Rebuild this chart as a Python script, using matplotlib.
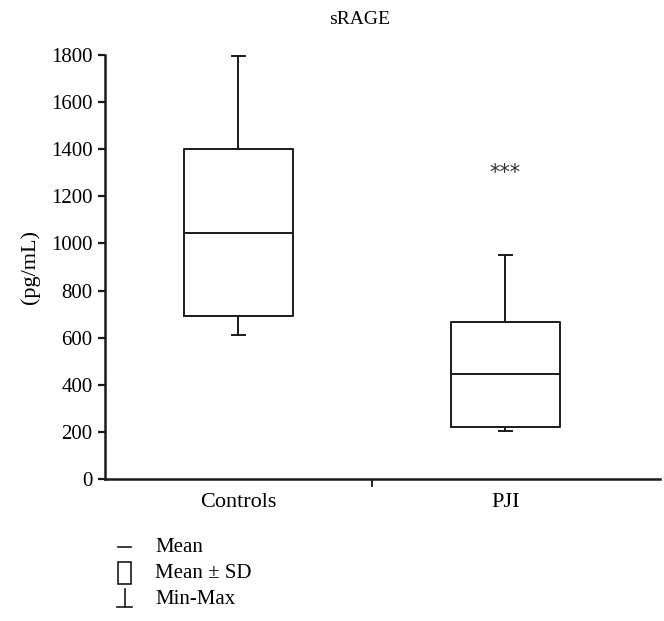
import matplotlib
matplotlib.use('Agg')
import matplotlib.pyplot as plt
from matplotlib.lines import Line2D
from matplotlib.patches import Rectangle

plt.rcParams['font.family'] = ['Liberation Serif', 'DejaVu Serif']

groups  = ['Controls', 'PJI']
mins    = [612, 205]
q1      = [690, 222]
means   = [1045, 445]
q3      = [1402, 665]
maxs    = [1795, 950]
yticks  = [0, 200, 400, 600, 800, 1000, 1200, 1400, 1600, 1800]

fig = plt.figure(figsize=(6.64, 6.21), dpi=100)
ax = fig.add_axes([0.158, 0.2287, 0.836, 0.6827])

stats = []
for i in range(len(groups)):
    stats.append(dict(label=groups[i], whislo=mins[i], q1=q1[i], med=means[i],
                      q3=q3[i], whishi=maxs[i]))

lw = 1.4
ax.bxp(stats, positions=[1, 2], widths=0.41, showfliers=False,
       boxprops=dict(color='#1a1a1a', linewidth=lw),
       medianprops=dict(color='#1a1a1a', linewidth=lw),
       whiskerprops=dict(color='#1a1a1a', linewidth=lw),
       capprops=dict(color='#1a1a1a', linewidth=lw),
       capwidths=0.05)

ax.text(2, 1300, '***', ha='center', va='center', fontsize=15, color='#333333',
        family='DejaVu Sans')

ax.set_xlim(0.5, 2.58)
ax.set_ylim(0, 1800)
ax.set_yticks(yticks)
ax.tick_params(axis='y', labelsize=15, length=5, width=1.6, color='#1a1a1a', pad=4)
ax.set_xticks([1, 2])
ax.set_xticklabels(groups)
ax.tick_params(axis='x', labelsize=16, length=0, pad=10)
ax.set_xticks([1.5], minor=True)
ax.tick_params(axis='x', which='minor', length=6, width=1.2, direction='out')

for s in ['top', 'right']:
    ax.spines[s].set_visible(False)
for s in ['left', 'bottom']:
    ax.spines[s].set_linewidth(1.8)
    ax.spines[s].set_color('#1a1a1a')

ax.set_ylabel('(pg/mL)', fontsize=16, labelpad=8)
fig.text(0.541, 0.968, 'sRAGE', ha='center', va='center', fontsize=14)

# legend
W, H = 664, 621
def fx(x): return x / W
def fy(y): return 1 - y / H
c = '#1a1a1a'
fig.add_artist(Line2D([fx(118), fx(131)], [fy(547), fy(547)], color=c, lw=1.2))
fig.add_artist(Rectangle((fx(118), fy(584)), 13 / W, 22 / H, fill=False,
                         edgecolor=c, lw=1.2))
fig.add_artist(Line2D([fx(124.5), fx(124.5)], [fy(589), fy(607)], color=c, lw=1.2))
fig.add_artist(Line2D([fx(117), fx(132)], [fy(607), fy(607)], color=c, lw=1.2))
labels = ['Mean', 'Mean \u00b1 SD', 'Min-Max']
for lab, y in zip(labels, [547, 573, 599]):
    fig.text(fx(155), fy(y), lab, ha='left', va='center', fontsize=15)

fig.savefig('out.png', dpi=100)
